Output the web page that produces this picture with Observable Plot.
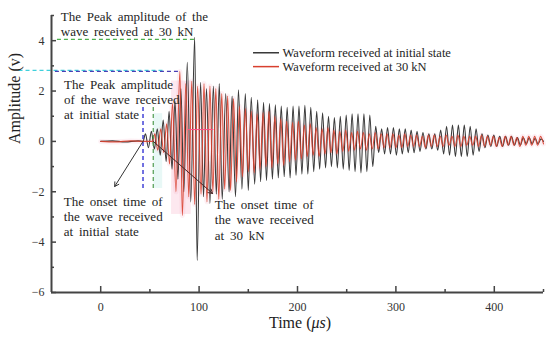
<!DOCTYPE html>
<html><head><meta charset="utf-8">
<script src="https://cdn.jsdelivr.net/npm/d3@7"></script>
<script src="https://cdn.jsdelivr.net/npm/@observablehq/plot@0.6"></script>
<style>
body{margin:0;background:#fff;}
g[aria-description="annot"] text{word-spacing:2.5px;}
</style>
</head><body><div id="chart"></div>
<script>
// ---- Data (time in µs, amplitude in V) ----
const initialState = [
[0,0],[12,0.02],[25,-0.02],[38,0.02],[43,0],
[45.5,0.3],[48.5,-0.25],[51.5,0.4],[54.5,-0.3],[57.5,0.5],[60.5,-0.55],[63.5,0.85],[66.5,-0.8],[69.5,1.2],[72.5,-1.1],
[75.5,1.6],[78.5,-1.5],[81.5,2.1],[84.5,-2.0],[88,3.14],[91.5,-2.4],[95.5,4.13],[98,-4.73],[101.5,2.35],[104.5,-2.2],
[107.5,2.1],[111,-2.47],[114.5,2.2],[117.5,-2.1],[120.5,2.3],[123.5,-2.3],[127,1.9],[130.5,-2.0],[133.5,1.8],[137,-2.2],
[140,2.05],[143.5,-1.9],[147,1.9],[150,-1.95],[153,1.75],[156.5,-1.7],[159.5,1.65],[162.5,-1.6],[165.5,1.55],[168.5,-1.55],
[171.5,1.5],[174.5,-1.5],[177.5,1.45],[180.5,-1.45],[183.5,1.4],[186.5,-1.4],[189.5,1.35],[192.5,-1.45],[195.5,1.4],[198.5,-1.35],
[201.5,1.4],[204.5,-1.3],[207.5,1.43],[210.5,-1.3],[213.5,1.35],[216.5,-1.2],[219.5,1.2],[222.5,-1.1],[225.5,1.14],[228.5,-1.05],
[231.5,1.0],[234.5,-1.0],[237.5,0.95],[240.5,-1.05],[243.5,1.0],[246.5,-1.1],[249.5,1.05],[252.5,-1.15],[255.5,1.1],[258.5,-1.2],
[261.5,1.1],[264.5,-1.25],[267.5,1.1],[270.5,-1.2],[273.5,1.05],[276.5,-1.0],[279.5,0.6],[282.5,-0.45],[285.5,0.5],[288.5,-0.5],
[291.5,0.55],[294.5,-0.5],[297.5,0.55],[300.5,-0.55],[303.5,0.5],[306.5,-0.5],[309.5,0.5],[312.5,-0.45],[315.5,0.45],[318.5,-0.45],
[321.5,0.4],[324.5,-0.4],[327.5,0.35],[330.5,-0.3],[333.5,0.3],[336.5,-0.3],[339.5,0.3],[342.5,-0.35],[345.5,0.45],[348.5,-0.5],
[351.5,0.6],[354.5,-0.55],[357.5,0.65],[360.5,-0.6],[363.5,0.65],[366.5,-0.6],[369.5,0.65],[372.5,-0.6],[375.5,0.6],[378.5,-0.55],
[381.5,0.5],[384.5,-0.4],[387.5,0.3],[390.5,-0.25],[393.5,0.25],[396.5,-0.2],[399.5,0.25],[402.5,-0.2],[405.5,0.2],[408.5,-0.2],
[411.5,0.2],[414.5,-0.15],[417.5,0.2],[420.5,-0.15],[423.5,0.15],[426.5,-0.15],[429.5,0.15],[432.5,-0.1],[435.5,0.15],[438.5,-0.1],
[441.5,0.12],[444.5,-0.1],[447.5,0.1],[450,0]
];
const at30kN = [
[0,0],[15,-0.02],[30,0.02],[45,0],[53,0],
[55,0.3],[58,-0.35],[61,0.5],[64,-0.45],[67,0.7],[70,-0.9],[73,1.5],[76.5,-2.0],[80.5,2.78],[83,-2.94],
[86.5,2.3],[89.5,-2.2],[92.5,2.4],[95.5,-2.5],[98.5,2.2],[102,-2.1],[105,2.3],[108,-2.4],[111,2.2],[114,-2.0],
[117,2.1],[120,-2.3],[123,1.9],[126,-1.9],[129,1.8],[132,-1.95],[135,1.7],[138,-1.6],[141,1.4],[144,-1.4],
[147,1.3],[150,-1.2],[153,1.2],[156,-1.25],[159,1.1],[162,-1.1],[165,1.15],[168,-1.0],[171,1.2],[174,-1.05],
[177,1.0],[180,-0.9],[183,0.9],[186,-0.95],[189,0.8],[192,-0.8],[195,0.75],[198,-0.75],[201,0.8],[204,-0.7],
[207,0.65],[210,-0.6],[213,0.7],[216,-0.55],[219,0.55],[222,-0.6],[225,0.5],[228,-0.5],[231,0.55],[234,-0.45],
[237,0.45],[240,-0.5],[243,0.4],[246,-0.4],[249,0.45],[252,-0.4],[255,0.35],[258,-0.35],[261,0.4],[264,-0.3],
[267,0.35],[270,-0.35],[273,0.3],[276,-0.3],[279,0.35],[282,-0.3],[285,0.3],[288,-0.25],[291,0.3],[294,-0.25],
[297,0.3],[300,-0.25],[303,0.25],[306,-0.25],[309,0.3],[312,-0.2],[315,0.25],[318,-0.2],[321,0.25],[324,-0.2],
[327,0.2],[330,-0.25],[333,0.25],[336,-0.2],[339,0.25],[342,-0.2],[345,0.2],[348,-0.2],[351,0.25],[354,-0.15],
[357,0.2],[360,-0.2],[363,0.25],[366,-0.2],[369,0.2],[372,-0.15],[375,0.2],[378,-0.15],[381,0.2],[384,-0.2],
[387,0.25],[390,-0.2],[393,0.2],[396,-0.15],[399,0.2],[402,-0.2],[405,0.15],[408,-0.2],[411,0.2],[414,-0.15],
[417,0.2],[420,-0.15],[423,0.15],[426,-0.2],[429,0.2],[432,-0.15],[435,0.2],[438,-0.15],[441,0.2],[444,-0.15],
[447,0.2],[450,-0.1]
];
const seriesNames = ["Waveform received at initial state", "Waveform received at 30 kN"];
const xTickLabels = [0, 100, 200, 300, 400];
const xMinorTicks = [50, 150, 250, 350, 450];
const yTickLabels = [-6, -4, -2, 0, 2, 4];
const yMinorTicks = [-5, -3, -1, 1, 3, 5];
const xDomain = [-50, 450];
const yDomain = [-6, 5];

// annotation texts and their anchor points (data coordinates)
const annotTexts = [
  "The Peak amplitude of the\nwave received at 30 kN",
  "The Peak amplitude\nof the wave received\nat initial state",
  "The onset time of\nthe wave received\nat initial state",
  "The onset time of\nthe wave received\nat 30 kN"
];
const annotX = [-40.6, -37.2, -37.5, 116];
const annotY = [5.22, 2.52, -2.12, -2.26];
const legendY = [3.52, 2.97];
const onsetInitial = 43;     // µs
const onset30kN = 53.4;      // µs
const peak30kNLevel = 4.05;  // V
const peakInitialLevel = 2.78;
const cyanLevel = 2.82;

// ---- layout ----
const W = 550, H = 342, mL = 51, mR = 7, mT = 15, mB = 50;
const pxPerY = (H - mT - mB) / (yDomain[1] - yDomain[0]);
const pxPerX = (W - mL - mR) / (xDomain[1] - xDomain[0]);
const tickY = (px) => px / pxPerY;
const tickX = (px) => px / pxPerX;

const X = d => d[0], Y = d => d[1];
const axisColor = "#444";
const serif = "'Liberation Serif', 'Times New Roman', serif";

const plot = Plot.plot({
  width: W, height: H,
  marginLeft: mL, marginRight: mR, marginTop: mT, marginBottom: mB,
  x: {domain: xDomain},
  y: {domain: yDomain},
  style: {fontFamily: serif, fontSize: "12px", color: "#222", background: "#fff", overflow: "visible"},
  marks: [
    // faint shaded highlights
    Plot.rect([0], {x1: 72, x2: 92, y1: -2.9, y2: 2.4, fill: "#fde8ef"}),
    Plot.rect([0], {x1: 54, x2: 63, y1: -1.87, y2: 1.1, fill: "#e8f8f6"}),
    // pink halo under red trace
    Plot.line(at30kN, {x: X, y: Y, stroke: "#f4a3bb", strokeWidth: 5, strokeOpacity: 0.16, curve: "monotone-x"}),
    // waveforms
    Plot.line(initialState, {x: X, y: Y, stroke: "#3a3a3a", strokeWidth: 1.1, curve: "monotone-x"}),
    Plot.line(at30kN, {x: X, y: Y, stroke: "#d8402e", strokeWidth: 1.1, strokeOpacity: 0.9, curve: "monotone-x"}),
    Plot.ruleY([0.47], {x1: 89, x2: 115, stroke: "#ff4f86", strokeWidth: 1}),
    // dashed guide lines
    Plot.ruleY([peak30kNLevel], {x1: -44, x2: 95.5, stroke: "#4cae4c", strokeWidth: 1.2, strokeDasharray: "4,3"}),
    Plot.ruleY([cyanLevel], {x1: -83, x2: 66, stroke: "#3fd0dc", strokeWidth: 1.2, strokeDasharray: "4,3"}),
    Plot.ruleY([peakInitialLevel], {x1: -46, x2: 80.5, stroke: "#4a3fb5", strokeWidth: 1.2, strokeDasharray: "4,3"}),
    Plot.ruleX([onsetInitial], {y1: -1.87, y2: 1.43, stroke: "#2626d0", strokeWidth: 1.3, strokeDasharray: "4,3"}),
    Plot.ruleX([onset30kN], {y1: -1.87, y2: 1.43, stroke: "#4f9a4f", strokeWidth: 1.2, strokeDasharray: "4,3"}),
    // arrows
    Plot.arrow([0], {x1: onsetInitial, y1: 0, x2: 14.2, y2: -1.79, stroke: "#333", strokeWidth: 1, headLength: 7}),
    Plot.arrow([0], {x1: onset30kN, y1: 0, x2: 113.7, y2: -2.07, stroke: "#4a2626", strokeWidth: 1, headLength: 7}),
    // axes lines
    Plot.ruleX([xDomain[0]], {y1: yDomain[0], y2: yDomain[1], stroke: axisColor, strokeWidth: 2}),
    Plot.ruleY([yDomain[0]], {x1: xDomain[0], x2: xDomain[1], stroke: axisColor, strokeWidth: 2}),
    // inward ticks
    Plot.ruleX(xTickLabels, {y1: yDomain[0], y2: yDomain[0] + tickY(6), stroke: axisColor, strokeWidth: 1.5}),
    Plot.ruleX(xMinorTicks, {y1: yDomain[0], y2: yDomain[0] + tickY(3), stroke: axisColor, strokeWidth: 1.5}),
    Plot.ruleY(yTickLabels, {x1: xDomain[0], x2: xDomain[0] + tickX(5), stroke: axisColor, strokeWidth: 1.5}),
    Plot.ruleY(yMinorTicks, {x1: xDomain[0], x2: xDomain[0] + tickX(3), stroke: axisColor, strokeWidth: 1.5}),
    Plot.axisX(xTickLabels, {tickSize: 0, tickPadding: 10, label: null, fontSize: 12, fill: "#333"}),
    Plot.axisY(yTickLabels, {tickSize: 0, tickPadding: 7, label: null, fontSize: 12, fill: "#333"}),
    // y label
    Plot.text(["Amplitude (v)"], {frameAnchor: "left", dx: -37, dy: -10, rotate: -90, fontSize: 16, fill: "#222"}),
    // annotations
    Plot.text(annotTexts, {x: (d, i) => annotX[i], y: (d, i) => annotY[i], textAnchor: "start", lineAnchor: "top",
      lineHeight: 1.17, fontSize: 13, fill: "#1e1e1e", ariaDescription: "annot"}),
    // legend
    Plot.ruleY([legendY[0]], {x1: 155.3, x2: 181.7, stroke: "#3a3a3a", strokeWidth: 1.5}),
    Plot.ruleY([legendY[1]], {x1: 155.3, x2: 181.7, stroke: "#d8402e", strokeWidth: 1.5}),
    Plot.text(seriesNames, {x: 184.8, y: (d, i) => legendY[i], textAnchor: "start", lineAnchor: "middle", fontSize: 12.5, fill: "#1e1e1e"})
  ]
});

document.getElementById("chart").appendChild(plot);
const svg = d3.select(plot);
const lab = svg.append("text").attr("x", 300).attr("y", 328).attr("text-anchor", "middle")
  .attr("font-size", 16).attr("fill", "#222").attr("font-family", serif);
lab.append("tspan").text("Time (");
lab.append("tspan").attr("font-style", "italic").text("μs");
lab.append("tspan").text(")");
</script></body></html>
